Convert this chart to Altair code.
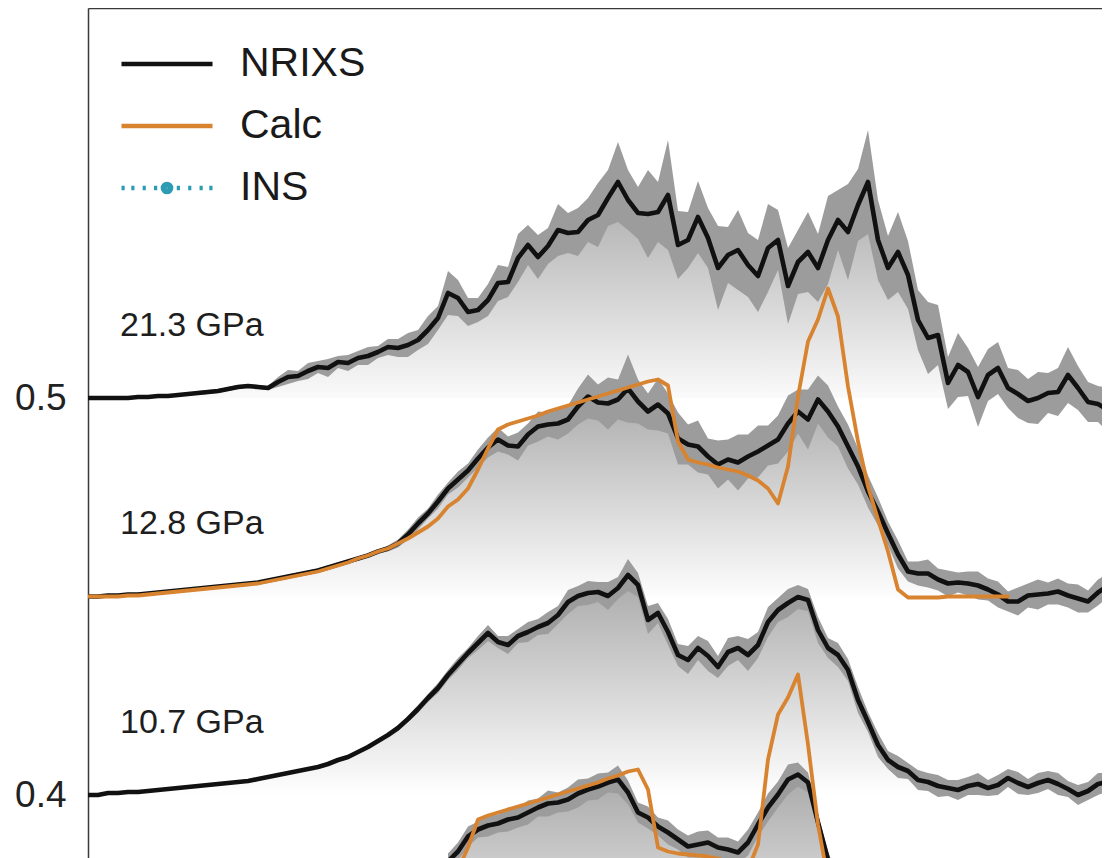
import altair as alt
import pandas as pd

# ---------------- data ----------------
# uniform energy grid (arbitrary units, x axis not shown)
N_POINTS = 103
ENERGY = list(range(N_POINTS))
# intensity (arb. units) -> y-axis units
INTENSITY_SCALE = 0.1 / 397

PRESSURES = ["21.3 GPa", "12.8 GPa", "10.7 GPa"]
OFFSETS = [0.50, 0.45, 0.40]
LOW_OFFSET = 0.35
LABEL_RISE = 0.0182
LABEL_X = 3.2

NRIXS_213 = [0, 0, 0, 0, 0, 1, 1, 2, 2, 3,
             4, 5, 6, 7, 9, 11, 12, 11, 10, 16,
             21, 22, 27, 31, 30, 36, 35, 40, 42, 46,
             51, 50, 53, 58, 68, 80, 105, 100, 86, 88,
             98, 115, 116, 140, 153, 141, 152, 168, 165, 166,
             178, 183, 200, 216, 198, 185, 184, 186, 203, 153,
             158, 181, 160, 130, 143, 148, 133, 122, 150, 158,
             112, 136, 146, 130, 158, 178, 166, 193, 216, 158,
             130, 146, 123, 78, 60, 63, 15, 33, 26, 1,
             23, 30, 10, 4, -3, 0, 5, 6, 23, 10,
             -4, -6, -12]
ERR_213 = [1, 1, 1, 1, 1, 1, 1, 1, 1, 1, 1,
           2, 2, 2, 2, 2, 2, 2, 2,
           5, 7, 5, 8, 6, 9, 6, 8, 7, 9, 6, 8,
           9, 12, 10, 14, 12, 22, 18, 14, 12, 16,
           18, 15, 24, 20, 22, 18, 26, 20, 24, 22,
           32, 28, 40, 30, 26, 44, 30, 55, 34, 28,
           36, 30, 42, 28, 40, 32, 36, 44, 30, 38,
           32, 40, 34, 44, 30, 48, 36, 52, 40, 32,
           40, 34, 30, 36, 30, 26, 32, 24, 30, 26,
           26, 20, 24, 22, 26, 20, 24, 28, 22, 20, 18, 22]

NRIXS_128 = [0, 0, 1, 1, 2, 2, 3, 4, 5, 6,
             7, 8, 9, 10, 11, 12, 13, 14, 16, 18,
             20, 22, 24, 26, 29, 32, 35, 38, 41, 45,
             48, 53, 62, 73, 83, 95, 108, 117, 126, 138,
             149, 157, 151, 150, 162, 170, 172, 173, 177, 190,
             200, 194, 193, 197, 208, 195, 185, 192, 183, 158,
             152, 150, 140, 132, 137, 134, 140, 145, 151, 157,
             173, 185, 177, 197, 185, 170, 150, 130, 105, 85,
             63, 42, 25, 23, 23, 17, 13, 14, 13, 11,
             7, 2, -5, -5, 1, 2, 3, 5, 1, -2,
             -5, 4, 11]
ERR_128 = [1] * 20 + [2] * 10 + [
           3, 4, 5, 6, 5, 7, 6, 8, 7, 9,
           10, 12, 9, 14, 11, 15, 12, 16, 14, 18,
           22, 18, 26, 20, 34, 22, 18, 26, 20, 26,
           20, 26, 18, 24, 20, 28, 22, 26, 20, 24,
           28, 22, 30, 24, 26, 20, 22, 18, 16, 14,
           12, 14, 10, 12, 14, 11, 13, 10, 12, 14,
           11, 13, 10, 14, 12, 15, 11, 13, 12, 14, 11, 13, 12]
CALC_128 = [0, 0, 0, 0, 1, 1, 2, 3, 4, 5,
            6, 7, 8, 9, 10, 11, 12, 13, 15, 17,
            19, 21, 23, 25, 28, 31, 34, 38, 41, 45,
            48, 53, 58, 64, 70, 78, 90, 97, 108, 127,
            148, 167, 172, 175, 178, 181, 185, 188, 191, 194,
            197, 200, 203, 206, 209, 212, 215, 217, 211, 155,
            137, 134, 132, 129, 127, 125, 121, 116, 108, 93,
            130, 200, 255, 277, 308, 280, 210, 155, 110, 77,
            45, 7, -1, -1, -1, -1, 0, 0, 0, 0,
            0, 0, 0]

NRIXS_107 = [0, 0, 2, 2, 3, 3, 4, 5, 6, 7,
             8, 9, 10, 11, 12, 13, 14, 16, 18, 20,
             22, 24, 26, 28, 31, 35, 38, 43, 48, 54,
             60, 67, 76, 86, 97, 107, 120, 131, 142, 152,
             162, 153, 150, 159, 163, 168, 172, 180, 193, 199,
             202, 203, 199, 207, 220, 210, 175, 182, 163, 140,
             135, 147, 139, 128, 143, 147, 140, 150, 173, 185,
             192, 198, 195, 165, 147, 140, 125, 95, 73, 50,
             35, 28, 24, 15, 13, 9, 7, 5, 9, 11,
             7, 10, 17, 12, 8, 12, 15, 11, 6, 0,
             4, 11, 13]
ERR_107 = [1] * 25 + [2] * 5 + [
           2, 3, 3, 4, 4, 5, 5, 6, 5, 7,
           8, 6, 9, 7, 10, 8, 11, 9, 12, 10,
           12, 10, 14, 11, 16, 12, 14, 10, 13, 11,
           14, 12, 15, 11, 14, 12, 16, 13, 15, 12,
           14, 12, 11, 13, 10, 12, 11, 13, 10, 12,
           9, 11, 8, 10, 9, 11, 8, 10, 9, 11,
           8, 10, 9, 11, 8, 10, 9, 11, 8, 10,
           9, 11, 9]

# lowest spectrum, only partly inside the frame
LOW_START = 36
NRIXS_LOW = [132, 142, 157, 164, 168, 170, 174, 176, 181, 186,
             190, 191, 194, 200, 204, 207, 211, 214, 201, 181,
             176, 167, 161, 154, 147, 149, 151, 146, 144, 141,
             151, 169, 186, 199, 214, 219, 211, 171, 134, 109]
ERR_LOW = [8, 9, 10, 8, 11, 9, 12, 10, 12, 9,
           13, 10, 12, 14, 11, 13, 10, 14, 12, 10,
           11, 9, 12, 10, 11, 13, 12, 10, 12, 11,
           13, 12, 14, 13, 15, 12, 10, 9, 8, 8]
CALC_LOW_START = 37
CALC_LOW = [124, 146, 174, 178, 181, 184, 187, 190, 193, 196,
            199, 202, 205, 208, 211, 215, 218, 222, 224, 204,
            146, 142, 140, 139, 138, 137, 135, 132, 128, 124,
            149, 234, 279, 296, 319, 249, 169, 114, 84]

LEGEND_NAMES = ["NRIXS", "Calc", "INS"]

# ---------------- styling ----------------
FONT = "Liberation Sans"
BLACK = "#111111"
ORANGE = "#D8832F"
TEAL = "#2B9CB3"
BAND = "#9c9c9c"
AXIS_COL = "#3a3a3a"

P_LINE = "M-1,0L1,0"
P_INS = ("M-1,0L-0.93,0M-0.785,0L-0.715,0M-0.535,0L-0.465,0M-0.285,0L-0.215,0"
         "M0.215,0L0.285,0M0.465,0L0.535,0M0.715,0L0.785,0M0.93,0L1,0"
         "M0.09,0A0.09,0.09,0,1,1,-0.09,0A0.09,0.09,0,1,1,0.09,0Z"
         "M0.04,0A0.04,0.04,0,1,1,-0.04,0A0.04,0.04,0,1,1,0.04,0Z")

PLOT_W = 1014
PLOT_H = 850
Y_TOP = 0.598237
Y_BOTTOM = 0.5 - (PLOT_H - 390) / 3970


def frame(start, vals, errs, base):
    rows = []
    for i, v in enumerate(vals):
        y = base + v * INTENSITY_SCALE
        e = errs[i] * INTENSITY_SCALE if errs else 0.0
        rows.append({"x": ENERGY[start + i], "y": y, "lo": y - e, "hi": y + e, "base": base})
    return pd.DataFrame(rows)


X = alt.X("x:Q", scale=alt.Scale(domain=[0, PLOT_W / 10], nice=False, zero=False),
          axis=alt.Axis(orient="top", labels=False, ticks=False, grid=False, domain=True,
                        domainColor=AXIS_COL, domainWidth=1.5, title=None))
Y_SCALE = alt.Scale(domain=[Y_BOTTOM, Y_TOP], nice=False, zero=False)
Y_AXIS = alt.Axis(values=[0.4, 0.5], format=".1f", ticks=False, tickSize=0, grid=False,
                  labelFont=FONT, labelFontSize=37, labelColor="#222222", labelPadding=22,
                  domainColor=AXIS_COL, domainWidth=1.5, title=None)


def Yf(field):
    return alt.Y(field, type="quantitative", scale=Y_SCALE, axis=Y_AXIS)


GRAD = alt.Gradient(gradient="linear",
                    stops=[alt.GradientStop(color="#a9a9a9", offset=0),
                           alt.GradientStop(color="#ffffff", offset=1)],
                    x1=0, x2=0, y1=0, y2=1)


def spectrum_layers(df, calc_df=None):
    area = alt.Chart(df).mark_area(color=GRAD, clip=True).encode(x=X, y=Yf("y"), y2=alt.Y2("base:Q"))
    band = alt.Chart(df).mark_area(color=BAND, clip=True).encode(x=X, y=Yf("lo"), y2=alt.Y2("hi:Q"))
    line = alt.Chart(df).mark_line(color=BLACK, strokeWidth=4.6, strokeJoin="round",
                                   strokeCap="round", clip=True).encode(x=X, y=Yf("y"))
    out = [area, band, line]
    if calc_df is not None:
        out.append(alt.Chart(calc_df).mark_line(color=ORANGE, strokeWidth=3.8, strokeJoin="round",
                                                strokeCap="round", clip=True).encode(x=X, y=Yf("y")))
    return out


layers = []
layers += spectrum_layers(frame(0, NRIXS_213, ERR_213, OFFSETS[0]))
layers += spectrum_layers(frame(0, NRIXS_128, ERR_128, OFFSETS[1]), frame(0, CALC_128, None, OFFSETS[1]))
layers += spectrum_layers(frame(0, NRIXS_107, ERR_107, OFFSETS[2]))
layers += spectrum_layers(frame(LOW_START, NRIXS_LOW, ERR_LOW, LOW_OFFSET),
                          frame(CALC_LOW_START, CALC_LOW, None, LOW_OFFSET))

labels_df = pd.DataFrame({"label": PRESSURES,
                          "x": [LABEL_X] * len(PRESSURES),
                          "y": [o + LABEL_RISE for o in OFFSETS]})
labels = alt.Chart(labels_df).mark_text(align="left", baseline="middle", font=FONT,
                                        fontSize=34, color="#1e1e1e").encode(
    x=X, y=Yf("y"), text="label:N")

LEG = dict(title=None, orient="none", legendX=31, legendY=25, labelFont=FONT, labelFontSize=41,
           labelColor="#1a1a1a", symbolSize=8281, symbolStrokeWidth=4.5, labelOffset=25,
           clipHeight=62, rowPadding=0, padding=0)
legend_layer = alt.Chart(pd.DataFrame({"series": LEGEND_NAMES})).transform_filter("false").mark_point(
    size=8281, strokeWidth=4.5, filled=False, opacity=1).encode(
    color=alt.Color("series:N", scale=alt.Scale(domain=LEGEND_NAMES, range=[BLACK, ORANGE, TEAL]),
                    legend=alt.Legend(**LEG)),
    shape=alt.Shape("series:N", scale=alt.Scale(domain=LEGEND_NAMES, range=[P_LINE, P_LINE, P_INS]),
                    legend=alt.Legend(**LEG)),
)

chart = alt.layer(*layers, labels, legend_layer).properties(
    width=PLOT_W, height=PLOT_H,
    padding={"left": 80, "top": 0, "right": 0, "bottom": 0},
    autosize=alt.AutoSizeParams(type="none"),
    background="white",
).configure_view(strokeWidth=0)

chart.save("out.html", embed_options={"renderer": "svg", "actions": False})
